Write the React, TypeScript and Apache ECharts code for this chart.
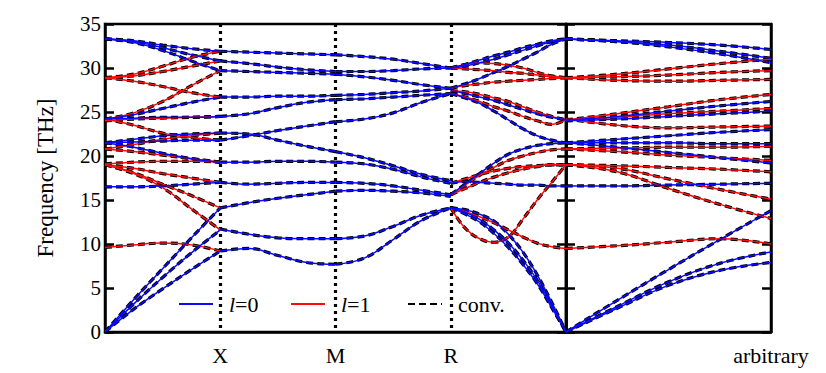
import React, { useEffect, useRef } from "react";
import * as echarts from "echarts";

// ---- axis data ----
const freqMin = 0;
const freqMax = 35;
const freqStep = 5;
const pathTickLabels = ["", "X", "M", "R", ""]; // Γ at both ends not labelled
const arbTickLabel = "arbitrary";
const legendNames = ["l=0", "l=1", "conv."];

// ---- k grids (path units: Γ=0, X=1, M=2, R=3, Γ=4) ----
const gxK = [0, 0.25, 0.5, 0.75, 1];
const xmK = [1, 1.25, 1.5, 1.75, 2];
const mrK = [2, 2.25, 2.5, 2.75, 3];
const rgK = [3, 3.125, 3.25, 3.375, 3.5, 3.625, 3.75, 3.875, 4];
const arbK = [0, 0.25, 0.5, 0.75, 1];

// ---- Γ–X ----
const gxBlue = [
  [33.3, 33.1, 32.6, 32.2, 31.9],
  [33.3, 33.0, 32.3, 31.5, 30.8],
  [33.3, 32.9, 32.0, 30.8, 29.7],
  [24.2, 24.7, 25.4, 26.1, 26.7],
  [24.2, 24.3, 24.4, 24.4, 24.5],
  [21.5, 21.9, 22.3, 22.5, 22.6],
  [21.5, 21.6, 21.7, 21.8, 21.8],
  [21.5, 21.0, 20.3, 19.7, 19.3],
  [16.5, 16.5, 16.6, 16.8, 17.0],
  [0, 3.7, 7.2, 10.7, 14.1],
  [0, 3.2, 6.2, 9.0, 11.6],
  [0, 2.6, 4.9, 7.1, 9.2],
];
const gxRed = [
  [28.9, 29.3, 30.2, 31.2, 31.9],
  [28.9, 29.1, 29.6, 30.2, 30.8],
  [28.9, 28.5, 27.9, 27.2, 26.7],
  [24.2, 24.9, 26.2, 28.0, 29.7],
  [24.0, 24.2, 24.3, 24.4, 24.5],
  [24.2, 23.5, 22.6, 22.1, 21.8],
  [20.8, 21.3, 21.9, 22.3, 22.6],
  [20.8, 20.5, 20.1, 19.7, 19.3],
  [19.1, 19.3, 19.4, 19.4, 19.3],
  [19.0, 18.6, 18.0, 17.5, 17.0],
  [19.0, 18.1, 16.8, 15.5, 14.1],
  [19.0, 18.0, 16.4, 14.0, 11.6],
  [9.6, 9.9, 10.1, 9.9, 9.2],
];

// ---- X–M ----
const xmBlue = [
  [31.9, 31.8, 31.7, 31.6, 31.5],
  [30.8, 30.5, 30.1, 29.8, 29.6],
  [29.7, 29.6, 29.5, 29.4, 29.3],
  [26.7, 26.7, 26.8, 26.8, 26.9],
  [24.5, 24.8, 25.5, 26.1, 26.4],
  [21.8, 22.3, 22.9, 23.4, 23.9],
  [22.6, 22.5, 21.8, 21.1, 20.5],
  [19.3, 19.3, 19.4, 19.4, 19.3],
  [17.0, 16.8, 16.9, 17.0, 17.0],
  [14.1, 14.7, 15.2, 15.6, 16.0],
  [11.7, 11.1, 10.7, 10.6, 10.6],
  [9.2, 9.5, 8.7, 7.9, 7.7],
];

// ---- M–R ----
const mrBlue = [
  [31.5, 31.3, 31.0, 30.5, 30.0],
  [29.6, 29.6, 29.7, 29.9, 30.0],
  [29.3, 29.0, 28.6, 28.1, 27.7],
  [26.9, 27.0, 27.2, 27.4, 27.7],
  [26.4, 26.5, 26.7, 26.9, 27.1],
  [23.9, 24.2, 24.9, 26.1, 27.1],
  [20.5, 19.8, 18.9, 17.9, 17.2],
  [19.3, 19.1, 18.5, 17.6, 16.9],
  [17.0, 16.9, 16.6, 16.1, 15.6],
  [16.0, 16.1, 16.0, 15.8, 15.4],
  [10.6, 10.9, 12.0, 13.3, 14.1],
  [7.7, 8.4, 10.5, 12.7, 14.1],
];

// ---- R–Γ ----
const rgBlue = [
  [30.0, 30.4, 30.9, 31.4, 31.8, 32.3, 32.7, 33.1, 33.3],
  [30.0, 30.2, 30.6, 31.0, 31.5, 32.0, 32.5, 33.0, 33.3],
  [27.7, 28.2, 28.8, 29.5, 30.2, 31.0, 31.8, 32.7, 33.3],
  [27.4, 27.1, 26.7, 26.3, 25.8, 25.3, 24.8, 24.4, 24.1],
  [27.1, 26.6, 26.0, 25.1, 24.1, 23.1, 22.3, 21.8, 21.5],
  [15.6, 16.8, 18.0, 19.2, 20.2, 20.8, 21.2, 21.4, 21.5],
  [16.9, 17.1, 17.0, 16.9, 16.8, 16.7, 16.7, 16.6, 16.6],
  [14.1, 13.9, 13.4, 12.6, 11.1, 9.1, 6.5, 3.4, 0],
  [14.1, 13.6, 12.8, 11.6, 10.1, 8.2, 5.9, 3.0, 0],
  [14.1, 13.4, 12.5, 11.2, 9.6, 7.7, 5.5, 2.8, 0],
];
const rgRed = [
  [30.0, 30.4, 30.6, 30.5, 30.3, 30.0, 29.5, 29.1, 28.9],
  [30.0, 29.9, 29.8, 29.7, 29.5, 29.4, 29.2, 29.0, 28.9],
  [27.7, 28.0, 28.2, 28.4, 28.5, 28.6, 28.7, 28.8, 28.9],
  [27.4, 27.3, 27.0, 26.6, 26.2, 25.6, 25.0, 24.5, 24.1],
  [27.1, 26.7, 26.2, 25.6, 25.1, 24.5, 24.0, 23.6, 24.1],
  [15.6, 16.7, 17.8, 18.7, 19.5, 20.0, 20.4, 20.7, 20.8],
  [15.6, 16.3, 17.0, 17.6, 18.1, 18.5, 18.8, 19.0, 19.0],
  [16.9, 17.4, 17.9, 18.3, 18.6, 18.8, 18.9, 19.0, 19.0],
  [14.1, 11.8, 10.6, 10.2, 10.8, 12.8, 15.0, 17.0, 19.0],
  [14.1, 13.7, 13.1, 12.4, 11.6, 10.8, 10.1, 9.7, 9.5],
];

// ---- arbitrary direction (right panel) ----
const arbBlue = [
  [33.3, 33.1, 32.9, 32.6, 32.1],
  [33.3, 33.0, 32.6, 31.9, 31.1],
  [33.3, 33.0, 32.4, 31.6, 30.6],
  [24.1, 24.5, 25.1, 25.7, 26.2],
  [24.0, 24.2, 24.5, 24.8, 25.1],
  [21.5, 21.9, 22.3, 22.7, 23.0],
  [21.5, 21.5, 21.5, 21.4, 21.4],
  [21.5, 21.0, 20.4, 19.8, 19.2],
  [16.6, 16.6, 16.7, 16.8, 16.9],
  [0, 3.6, 7.1, 10.5, 13.8],
  [0, 2.9, 5.7, 7.8, 9.1],
  [0, 2.7, 5.3, 7.0, 7.9],
];
const arbRed = [
  [28.9, 29.3, 29.9, 30.5, 31.0],
  [28.9, 29.0, 29.2, 29.5, 29.7],
  [28.9, 28.6, 28.5, 28.6, 28.7],
  [24.1, 24.8, 25.6, 26.4, 27.0],
  [24.1, 24.4, 24.8, 25.1, 25.4],
  [24.2, 23.5, 23.2, 23.3, 23.4],
  [20.8, 20.9, 21.0, 21.0, 21.1],
  [20.8, 20.5, 20.1, 19.8, 19.5],
  [19.0, 18.9, 18.7, 18.5, 18.2],
  [19.0, 18.6, 17.4, 16.2, 15.1],
  [19.0, 18.2, 16.3, 14.5, 12.9],
  [9.5, 9.8, 10.2, 10.6, 10.0],
];

const FONT = "'Times New Roman', 'Liberation Serif', serif";
const BLUE = "#0a0aff";
const RED = "#ff0a0a";

type Curve = { k: number[]; f: number[]; panel: 0 | 1 };

function collect(k: number[], rows: number[][], panel: 0 | 1): Curve[] {
  return rows.map((f) => ({ k, f, panel }));
}

export default function App() {
  const ref = useRef<HTMLDivElement>(null);

  useEffect(() => {
    const chart = echarts.init(ref.current!, null, { renderer: "svg" });

    const blueCurves: Curve[] = [
      ...collect(gxK, gxBlue, 0),
      ...collect(xmK, xmBlue, 0),
      ...collect(mrK, mrBlue, 0),
      ...collect(rgK, rgBlue, 0),
      ...collect(arbK, arbBlue, 1),
    ];
    const redCurves: Curve[] = [
      ...collect(gxK, gxRed, 0),
      ...collect(rgK, rgRed, 0),
      ...collect(arbK, arbRed, 1),
    ];
    const allCurves = [...redCurves, ...blueCurves];

    const lineSeries = (c: Curve, name: string, color: string, lineStyle: any, z: number) => ({
      type: "line",
      name,
      xAxisIndex: c.panel,
      yAxisIndex: c.panel === 0 ? 0 : 2,
      data: c.k.map((k, i) => [k, c.f[i]]),
      smooth: 0.4,
      symbol: "none",
      color,
      itemStyle: { color },
      lineStyle: { color, ...lineStyle },
      z,
      silent: true,
    });

    const series: any[] = [];
    allCurves.forEach((c) =>
      series.push(lineSeries(c, legendNames[2], "#000", { width: 3.2, type: [7, 4] }, 2))
    );
    redCurves.forEach((c) => series.push(lineSeries(c, legendNames[1], RED, { width: 1.5 }, 3)));
    blueCurves.forEach((c) => series.push(lineSeries(c, legendNames[0], BLUE, { width: 1.5 }, 4)));

    const tickStyle = { show: true, inside: true, length: 9, lineStyle: { color: "#000", width: 2.5 } };
    const yBase = (grid: number, position: "left" | "right", labels: boolean, nameIt: boolean) => ({
      type: "value",
      gridIndex: grid,
      position,
      min: freqMin,
      max: freqMax,
      interval: freqStep,
      axisLine: { show: true, lineStyle: { color: "#000", width: 2.5 } },
      axisTick: tickStyle,
      splitLine: { show: false },
      axisLabel: labels
        ? { show: true, color: "#000", fontFamily: FONT, fontSize: 21, margin: 4 }
        : { show: false },
      name: nameIt ? "Frequency [THz]" : "",
      nameLocation: "middle",
      nameRotate: 90,
      nameGap: 48,
      nameTextStyle: { color: "#000", fontFamily: FONT, fontSize: 23 },
    });

    const richText = {
      color: "#000",
      fontFamily: FONT,
      fontSize: 22,
      padding: [0, 0, 0, 11],
      rich: {
        i: { fontStyle: "italic", fontFamily: FONT, fontSize: 22, color: "#000" },
        n: { fontFamily: FONT, fontSize: 22, color: "#000" },
      },
    };
    const legendFmt = (name: string) => {
      if (name.startsWith("l=")) return `{i|l}{n|${name.slice(1)}}`;
      return `{n|${name}}`;
    };
    const mkLegend = (name: string, left: number) => ({
      show: true,
      data: [name],
      left,
      top: 293,
      orient: "horizontal",
      itemWidth: 34,
      itemHeight: 14,
      selectedMode: false,
      formatter: legendFmt,
      textStyle: richText,
      itemStyle: { opacity: 0 },
      padding: 0,
    });

    const option: any = {
      animation: false,
      backgroundColor: "#fff",
      textStyle: { fontFamily: FONT },
      grid: [
        { left: 105, top: 24, width: 461, height: 308, show: true, borderColor: "#000", borderWidth: 2.5, backgroundColor: "transparent" },
        { left: 566, top: 24, width: 205, height: 308, show: true, borderColor: "#000", borderWidth: 2.5, backgroundColor: "transparent" },
      ],
      xAxis: [
        {
          type: "value",
          gridIndex: 0,
          min: 0,
          max: 4,
          interval: 1,
          axisLine: { show: true, lineStyle: { color: "#000", width: 2.5 } },
          axisTick: { show: false },
          splitLine: {
            show: true,
            showMinLine: false,
            showMaxLine: false,
            lineStyle: { color: "#000", width: 3.2, type: [3, 4] },
          },
          axisLabel: {
            show: true,
            color: "#000",
            fontFamily: FONT,
            fontSize: 22,
            margin: 12,
            formatter: (v: number) => pathTickLabels[Math.round(v)] ?? "",
          },
        },
        {
          type: "value",
          gridIndex: 1,
          min: 0,
          max: 1,
          interval: 1,
          axisLine: { show: true, lineStyle: { color: "#000", width: 2.5 } },
          axisTick: { show: false },
          splitLine: { show: false },
          axisLabel: {
            show: true,
            showMaxLabel: true,
            color: "#000",
            fontFamily: FONT,
            fontSize: 22,
            margin: 12,
            formatter: (v: number) => (v === 1 ? arbTickLabel : ""),
          },
        },
      ],
      yAxis: [
        yBase(0, "left", true, true),
        yBase(0, "right", false, false),
        yBase(1, "left", false, false),
        yBase(1, "right", false, false),
      ],
      legend: [
        mkLegend(legendNames[0], 178),
        mkLegend(legendNames[1], 290),
        mkLegend(legendNames[2], 407),
      ],
      series,
    };

    chart.setOption(option);
    return () => chart.dispose();
  }, []);

  return (
    <div
      ref={ref}
      style={{ position: "fixed", left: 0, top: 0, width: 826, height: 373, background: "#fff" }}
    />
  );
}
